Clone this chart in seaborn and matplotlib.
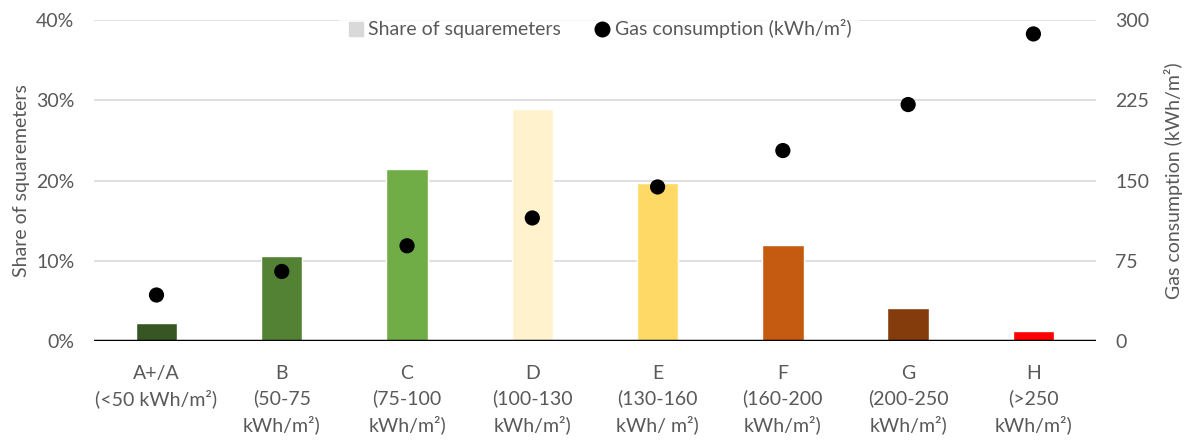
import pandas as pd
import matplotlib.pyplot as plt
import seaborn as sns
from matplotlib.lines import Line2D
from matplotlib.ticker import PercentFormatter

# data
labels = ['A+/A\n(<50 kWh/m²)', 'B\n(50-75\nkWh/m²)', 'C\n(75-100\nkWh/m²)',
          'D\n(100-130\nkWh/m²)', 'E\n(130-160\nkWh/ m²)', 'F\n(160-200\nkWh/m²)',
          'G\n(200-250\nkWh/m²)', 'H\n(>250\nkWh/m²)']
share = [2.3, 10.6, 21.4, 28.9, 19.7, 12.0, 4.1, 1.2]
gas = [43, 65, 89, 115, 144, 178, 221, 287]
colors = ['#375623', '#548235', '#70AD47', '#FFF2CC', '#FFD966', '#C55A11', '#843C0C', '#FF0000']

df = pd.DataFrame({'label': labels, 'share': share, 'gas': gas})

sns.set_theme(style='white')
plt.rcParams['font.family'] = ['Lato', 'DejaVu Sans']
grey = '#595959'
fs = 14

fig = plt.figure(figsize=(11.88, 4.46), dpi=100)
ax = fig.add_axes([0.079, 0.2354, 0.8436, 0.7197])

sns.barplot(data=df, x='label', y='share', hue='label', palette=colors,
            width=0.33, legend=False, ax=ax, saturation=1, zorder=2)
ax.set_ylim(0, 40)
ax.set_xlim(-0.5, 7.5)
ax.set_yticks([0, 10, 20, 30, 40])
ax.yaxis.set_major_formatter(PercentFormatter(decimals=0))
ax.grid(axis='y', color='#d9d9d9', lw=1.2, zorder=0)
ax.set_axisbelow(True)
ax.axhline(0, color='black', lw=2.5, zorder=3)
for s in ax.spines.values():
    s.set_visible(False)
ax.set_xlabel('')
ax.set_ylabel('Share of squaremeters', fontsize=fs, color=grey, labelpad=4)
ax.tick_params(axis='y', length=0, labelsize=fs, colors=grey, pad=14)
ax.tick_params(axis='x', length=0, labelsize=fs, colors=grey, pad=17)
for t in ax.get_xticklabels():
    t.set_linespacing(1.5)
    t.set_verticalalignment('top')

ax2 = ax.twinx()
sns.scatterplot(data=df, x='label', y='gas', color='black', s=120, ax=ax2, zorder=5,
                edgecolor='none')
ax2.set_ylim(0, 300)
ax2.set_yticks([0, 75, 150, 225, 300])
for s in ax2.spines.values():
    s.set_visible(False)
ax2.set_ylabel('Gas consumption (kWh/m²)', fontsize=fs, color=grey, labelpad=10)
ax2.tick_params(axis='y', length=0, labelsize=fs, colors=grey, pad=14)
ax2.set_xlabel('')

handles = [Line2D([], [], marker='s', ls='', color='#d9d9d9', markersize=9.5),
           Line2D([], [], marker='o', ls='', color='black', markersize=10.5)]
leg = ax2.legend(handles, ['Share of squaremeters', 'Gas consumption (kWh/m²)'],
                 loc='center', bbox_to_anchor=(0.504, 0.935), bbox_transform=fig.transFigure,
                 ncol=2, frameon=True, fontsize=fs, handletextpad=0.15, columnspacing=1.6,
                 handlelength=1.0, borderpad=0.4, fancybox=False)
leg.get_frame().set_facecolor('white')
leg.get_frame().set_edgecolor('none')
for t in leg.get_texts():
    t.set_color(grey)

fig.savefig('out.png', dpi=100)
